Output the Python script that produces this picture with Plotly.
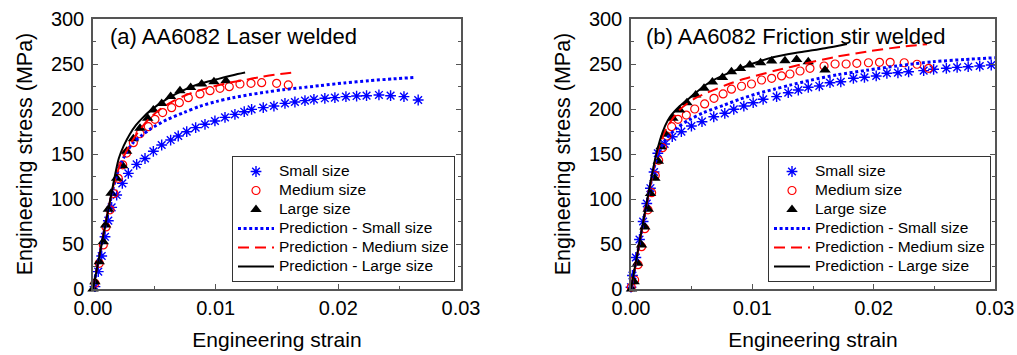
import plotly.graph_objects as go

# ---------------- (a) AA6082 Laser welded ----------------
a_small_strain = [0.00016, 0.00043, 0.00071, 0.00098, 0.00125, 0.00152, 0.00193, 0.00239, 0.00288,
                  0.00356, 0.00424, 0.00492, 0.00560, 0.00633, 0.00695, 0.00764, 0.00837, 0.00913,
                  0.00994, 0.01076, 0.01157, 0.01233, 0.01293, 0.01388, 0.01475, 0.01565, 0.01646,
                  0.01728, 0.01801, 0.01890, 0.01972, 0.02062, 0.02149, 0.02230, 0.02331, 0.02426,
                  0.02535, 0.02651]
a_small_stress = [2.6, 19.3, 36.7, 58.0, 75.9, 90.7, 104.4, 117.4, 128.5,
                  138.5, 145.0, 153.0, 160.0, 165.5, 170.0, 174.8, 179.3, 183.0,
                  186.7, 190.7, 194.0, 197.0, 199.6, 201.5, 203.3, 206.3, 207.8,
                  209.3, 210.7, 211.9, 212.6, 213.7, 214.4, 214.8, 215.6, 214.8,
                  213.7, 210.0]

a_medium_strain = [0.00016, 0.00051, 0.00084, 0.00106, 0.00139, 0.00171, 0.00206, 0.00242, 0.00274,
                   0.00329, 0.00383, 0.00451, 0.00505, 0.00568, 0.00641, 0.00704, 0.00777, 0.00872,
                   0.00954, 0.01035, 0.01111, 0.01198, 0.01288, 0.01375, 0.01497, 0.01592]
a_medium_stress = [6.3, 28.5, 49.0, 69.0, 88.0, 106.0, 123.0, 138.0, 151.0,
                   162.6, 172.5, 180.4, 188.5, 196.0, 201.5, 207.0, 212.6, 216.7,
                   220.4, 223.0, 224.8, 227.8, 228.5, 229.3, 228.5, 226.7]

a_large_strain = [0.0, 0.00016, 0.00051, 0.00084, 0.00103, 0.00125, 0.00147, 0.00193, 0.00242,
                  0.00274, 0.00329, 0.00383, 0.00446, 0.00492, 0.00560, 0.00633, 0.00709, 0.00796,
                  0.00886, 0.00986, 0.01084]
a_large_stress = [0.0, 8.0, 30.4, 52.6, 71.0, 88.5, 106.3, 123.0, 137.0,
                  153.0, 167.0, 178.5, 189.6, 199.0, 206.0, 214.0, 220.4, 224.0,
                  227.8, 230.4, 231.5]

a_pred_small_strain = [0.0, 0.0017, 0.0022, 0.0027, 0.0033, 0.0040, 0.0047, 0.0060, 0.0074, 0.0087,
                       0.0101, 0.0114, 0.0128, 0.0142, 0.0155, 0.0169, 0.0185, 0.0205, 0.0225,
                       0.0245, 0.0262]
a_pred_small_stress = [0.0, 115.0, 137.0, 151.0, 163.0, 171.0, 178.0, 188.0, 196.0, 203.0,
                       208.5, 212.5, 216.0, 219.0, 221.5, 223.5, 226.0, 229.0, 231.5,
                       233.5, 235.0]

a_pred_medium_strain = [0.0, 0.0017, 0.0021, 0.0025, 0.0030, 0.0036, 0.0045, 0.0055, 0.0065, 0.0075,
                        0.0085, 0.0095, 0.0110, 0.0123, 0.0136, 0.0150, 0.0166]
a_pred_medium_stress = [0.0, 117.0, 134.0, 147.0, 160.0, 173.0, 188.0, 200.0, 208.5, 215.0,
                        220.0, 224.0, 229.0, 232.0, 235.5, 238.5, 241.0]

a_pred_large_strain = [0.0, 0.0017, 0.0021, 0.0025, 0.0030, 0.0035, 0.0041, 0.0047, 0.0060, 0.0074,
                       0.0087, 0.0101, 0.0114, 0.0124]
a_pred_large_stress = [0.0, 120.0, 145.0, 159.0, 172.0, 182.0, 191.0, 198.5, 211.0, 221.0,
                       228.0, 233.0, 237.5, 240.5]

# ---------------- (b) AA6082 Friction stir welded ----------------
b_small_strain = [0.0, 0.00012, 0.00040, 0.00070, 0.00100, 0.00130, 0.00160, 0.00190, 0.00221,
                  0.00277, 0.00340, 0.00415, 0.00498, 0.00585, 0.00682, 0.00773, 0.00847, 0.00930,
                  0.01007, 0.01089, 0.01200, 0.01296, 0.01379, 0.01461, 0.01552, 0.01640, 0.01729,
                  0.01833, 0.01924, 0.02021, 0.02109, 0.02200, 0.02288, 0.02412, 0.02494, 0.02599,
                  0.02688, 0.02779, 0.02874, 0.02969]
b_small_stress = [2.0, 15.0, 35.0, 55.0, 75.0, 95.0, 112.0, 130.0, 150.8,
                  161.1, 169.2, 174.8, 181.1, 185.9, 191.4, 195.2, 199.7, 203.3,
                  207.0, 210.8, 213.7, 218.1, 221.1, 224.1, 225.6, 229.2, 230.3,
                  234.1, 235.2, 236.7, 239.7, 240.3, 241.4, 242.6, 244.1, 245.2,
                  246.3, 247.0, 247.8, 248.9]

b_medium_strain = [0.00002, 0.00030, 0.00058, 0.00087, 0.00114, 0.00140, 0.00170, 0.00200, 0.00228,
                   0.00260, 0.00295, 0.00335, 0.00387, 0.00456, 0.00525, 0.00607, 0.00684, 0.00759,
                   0.00828, 0.00911, 0.00993, 0.01076, 0.01159, 0.01241, 0.01310, 0.01393, 0.01475,
                   0.01591, 0.01682, 0.01773, 0.01861, 0.01957, 0.02048, 0.02136, 0.02252, 0.02357,
                   0.02453]
b_medium_stress = [2.0, 10.0, 27.0, 47.0, 67.0, 88.0, 107.0, 126.0, 143.0,
                   157.0, 170.0, 180.4, 188.5, 193.3, 200.0, 205.6, 211.9, 216.7,
                   222.0, 225.3, 227.8, 232.2, 234.1, 236.7, 238.9, 242.2, 245.2,
                   247.8, 250.0, 250.0, 250.8, 251.4, 251.9, 251.9, 251.4, 249.7,
                   245.2]

b_large_strain = [0.00004, 0.00026, 0.00054, 0.00087, 0.00114, 0.00142, 0.00161, 0.00197, 0.00225,
                  0.00248, 0.00285, 0.00345, 0.00401, 0.00461, 0.00533, 0.00602, 0.00671, 0.00754,
                  0.00828, 0.00902, 0.00979, 0.01068, 0.01159, 0.01269, 0.01365, 0.01461, 0.01599]
b_large_stress = [0.0, 8.0, 28.5, 49.0, 69.0, 88.5, 106.0, 123.0, 142.0,
                  158.0, 172.0, 189.7, 199.0, 207.0, 215.6, 223.0, 230.0, 235.0,
                  241.4, 245.0, 249.0, 251.4, 253.3, 253.7, 255.0, 252.6, 243.3]

b_pred_small_strain = [0.0, 0.0020, 0.0024, 0.0029, 0.0038, 0.0048, 0.0060, 0.0076, 0.0090, 0.0104,
                       0.0118, 0.0131, 0.0148, 0.0170, 0.0194, 0.0220, 0.0249, 0.0275, 0.0300]
b_pred_small_stress = [0.0, 140.0, 155.0, 167.0, 179.0, 188.0, 196.0, 204.0, 211.0, 217.0,
                       222.0, 226.5, 232.0, 238.0, 243.0, 248.0, 252.5, 255.0, 257.0]

b_pred_medium_strain = [0.0, 0.0020, 0.0024, 0.0029, 0.0040, 0.0053, 0.0068, 0.0080, 0.0092, 0.0106,
                        0.0120, 0.0142, 0.0167, 0.0194, 0.0222, 0.0244]
b_pred_medium_stress = [0.0, 142.0, 162.0, 178.0, 199.0, 212.0, 221.0, 227.5, 233.0, 238.0,
                        243.0, 250.0, 257.5, 263.7, 269.0, 272.0]

b_pred_large_strain = [0.0, 0.0020, 0.0024, 0.0028, 0.0032, 0.0040, 0.0048, 0.0065, 0.0090,
                       0.0117, 0.0139, 0.0160, 0.0178]
b_pred_large_stress = [0.0, 145.0, 166.0, 181.0, 191.0, 203.0, 212.0, 230.0, 245.2,
                       257.4, 263.0, 267.5, 272.2]

panel_titles = ["(a) AA6082 Laser welded", "(b) AA6082 Friction stir welded"]
legend_names = ["Small size", "Medium size", "Large size",
                "Prediction - Small size", "Prediction - Medium size", "Prediction - Large size"]
x_ticks = [0.0, 0.01, 0.02, 0.03]
x_tick_text = ["0.00", "0.01", "0.02", "0.03"]
y_ticks = [0, 50, 100, 150, 200, 250, 300]

FONT = "Liberation Sans, Arial, sans-serif"
BLUE = "#0000ff"
RED = "#ff0000"
BLACK = "#000000"
AXIS = "#555555"
LEGEND_TEXT = '<span style="font-size:15.5px">{}</span>'

fig = go.Figure()

panels = [
    dict(x="x", y="y", legend="legend",
         exp=[(a_small_strain, a_small_stress), (a_medium_strain, a_medium_stress), (a_large_strain, a_large_stress)],
         pred=[(a_pred_small_strain, a_pred_small_stress), (a_pred_medium_strain, a_pred_medium_stress),
               (a_pred_large_strain, a_pred_large_stress)]),
    dict(x="x2", y="y2", legend="legend2",
         exp=[(b_small_strain, b_small_stress), (b_medium_strain, b_medium_stress), (b_large_strain, b_large_stress)],
         pred=[(b_pred_small_strain, b_pred_small_stress), (b_pred_medium_strain, b_pred_medium_stress),
               (b_pred_large_strain, b_pred_large_stress)]),
]

marker_styles = [
    dict(symbol="asterisk-open", size=9, color=BLUE, line=dict(color=BLUE, width=1.4)),
    dict(symbol="circle-open", size=8, color=RED, line=dict(color=RED, width=1.2)),
    dict(symbol="triangle-up", size=10, color=BLACK, line=dict(width=0)),
]
line_styles = [
    dict(color=BLUE, width=3, dash="3px,2.6px"),
    dict(color=RED, width=2, dash="11px,6px"),
    dict(color=BLACK, width=2),
]

for p in panels:
    # measured points first, predictions drawn on top
    for (xs, ys), ms, name in zip(p["exp"], marker_styles, legend_names[:3]):
        fig.add_trace(go.Scatter(x=xs, y=ys, mode="markers", name=LEGEND_TEXT.format(name), marker=ms,
                                 xaxis=p["x"], yaxis=p["y"], legend=p["legend"], cliponaxis=False))
    for (xs, ys), ls, name in zip(p["pred"], line_styles, legend_names[3:]):
        fig.add_trace(go.Scatter(x=xs, y=ys, mode="lines", name=LEGEND_TEXT.format(name),
                                 line=dict(shape="spline", smoothing=0.8, **ls),
                                 xaxis=p["x"], yaxis=p["y"], legend=p["legend"]))

W, H = 1017, 355
x_domains = [[93 / W, 461 / W], [631 / W, 995 / W]]
y_domain = [(H - 289) / H, (H - 19) / H]

common_x = dict(range=[0, 0.03], tickvals=x_ticks, ticktext=x_tick_text, ticks="inside", ticklen=5,
                tickwidth=1.3, tickcolor=AXIS, showline=True, linecolor=AXIS, linewidth=1.5, mirror=True,
                showgrid=False, zeroline=False, automargin=False,
                tickfont=dict(family=FONT, size=20, color="#000"), ticklabelstandoff=0,
                minor=dict(dtick=0.005, ticks="inside", ticklen=3, tickcolor=AXIS, tickwidth=1.2),
                title=dict(text="Engineering strain", font=dict(family=FONT, size=21, color="#000"), standoff=15))
common_y = dict(range=[0, 300], tickvals=y_ticks, ticks="inside", ticklen=5, tickwidth=1.3, tickcolor=AXIS,
                showline=True, linecolor=AXIS, linewidth=1.5, mirror="ticks", showgrid=False, zeroline=False,
                automargin=False, tickfont=dict(family=FONT, size=20, color="#000"), ticklabelstandoff=3,
                minor=dict(dtick=25, ticks="inside", ticklen=3, tickcolor=AXIS, tickwidth=1.2),
                title=dict(text="Engineering stress (MPa)", font=dict(family=FONT, size=21.5, color="#000"),
                           standoff=12))

legend_common = dict(y=(H - 156) / H, xanchor="left", yanchor="top", bgcolor="white",
                     bordercolor="#333", borderwidth=1, font=dict(family=FONT, size=12.3, color="#000"),
                     tracegroupgap=0, itemwidth=36)

fig.update_layout(
    template="none",
    width=W, height=H, margin=dict(l=0, r=0, t=0, b=0, autoexpand=False),
    paper_bgcolor="white", plot_bgcolor="white",
    font=dict(family=FONT, color="#000"),
    xaxis=dict(domain=x_domains[0], anchor="y", **common_x),
    yaxis=dict(domain=y_domain, anchor="x", **common_y),
    xaxis2=dict(domain=x_domains[1], anchor="y2", **common_x),
    yaxis2=dict(domain=y_domain, anchor="x2", **common_y),
    legend=dict(x=232 / W, **legend_common),
    legend2=dict(x=768 / W, **legend_common),
    annotations=[
        dict(text=panel_titles[0], x=0.04, y=0.935, xref="x domain", yref="y domain", showarrow=False,
             xanchor="left", yanchor="middle", font=dict(family=FONT, size=22, color="#000")),
        dict(text=panel_titles[1], x=0.036, y=0.935, xref="x2 domain", yref="y2 domain", showarrow=False,
             xanchor="left", yanchor="middle", font=dict(family=FONT, size=22, color="#000")),
    ],
)

fig.write_html("out.html")
